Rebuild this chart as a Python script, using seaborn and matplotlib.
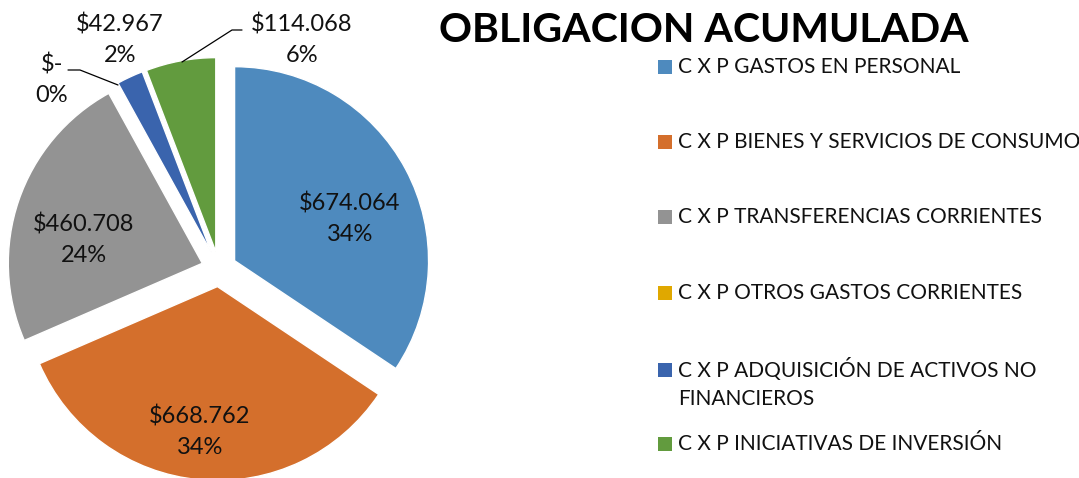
import matplotlib
matplotlib.use("Agg")
import matplotlib.pyplot as plt
import seaborn as sns
from matplotlib.patches import Rectangle

# data
categorias = [
    "C X P GASTOS EN PERSONAL",
    "C X P BIENES Y SERVICIOS DE CONSUMO",
    "C X P TRANSFERENCIAS CORRIENTES",
    "C X P OTROS GASTOS CORRIENTES",
    "C X P ADQUISICIÓN DE ACTIVOS NO\nFINANCIEROS",
    "C X P INICIATIVAS DE INVERSIÓN",
]
valores = [674.064, 668.762, 460.708, 0.0, 42.967, 114.068]
etiquetas_valor = ["$674.064", "$668.762", "$460.708", "$-", "$42.967", "$114.068"]
porcentajes = ["34%", "34%", "24%", "0%", "2%", "6%"]
colores = ["#4E8ABE", "#D46F2C", "#939393", "#E0A800", "#3A64AD", "#629B3E"]

sns.set_theme(style="white")
plt.rcParams["font.family"] = ["Lato", "DejaVu Sans"]

W, H, R = 1079, 478, 194
CX, CY = 219, 269


def P(x, y):
    # pixel position -> data coordinates (pie radius = 1)
    return (x - CX) / R, (CY - y) / R


fig = plt.figure(figsize=(W / 100, H / 100), dpi=100)
ax = fig.add_axes([0, 0, 1, 1])

wedges, _ = ax.pie(valores, colors=colores, startangle=90, counterclock=False,
                   explode=[0.091] * len(valores), radius=1,
                   wedgeprops=dict(edgecolor="white", linewidth=1))

ax.set_xlim(-CX / R, (W - CX) / R)
ax.set_ylim(-(H - CY) / R, CY / R)
ax.set_aspect("equal", adjustable="datalim")
ax.axis("off")

# label positions (pixels)
pos_lab = [(350, 219), (200, 432), (84, 240), (52, 80), (120, 40), (302, 40)]
for i, (x, y) in enumerate(pos_lab):
    ax.text(*P(x, y), f"{etiquetas_valor[i]}\n{porcentajes[i]}", ha="center", va="center",
            fontsize=17, linespacing=1.55, color="#111111")

# leader lines
for pts in ([(182, 62), (232, 30), (242, 30)], [(118, 85), (80, 70), (68, 70)]):
    xs, ys = zip(*[P(x, y) for x, y in pts])
    ax.plot(xs, ys, color="black", lw=0.9)

# title
ax.text(*P(704, 30), "OBLIGACION ACUMULADA", ha="center", va="center",
        fontsize=29.5, fontweight="bold", color="black")

# legend
filas = [67, 142, 217, 293, 370, 444]
for i, y in enumerate(filas):
    x0, y0 = P(658, y + 7)
    ax.add_patch(Rectangle((x0, y0), 14 / R, 14 / R, color=colores[i], lw=0))
    ty = y + 13.5 if "\n" in categorias[i] else y
    ax.text(*P(678, ty), categorias[i], ha="left", va="center",
            fontsize=15, linespacing=1.55, color="#111111")

fig.savefig("out.png", dpi=100)
